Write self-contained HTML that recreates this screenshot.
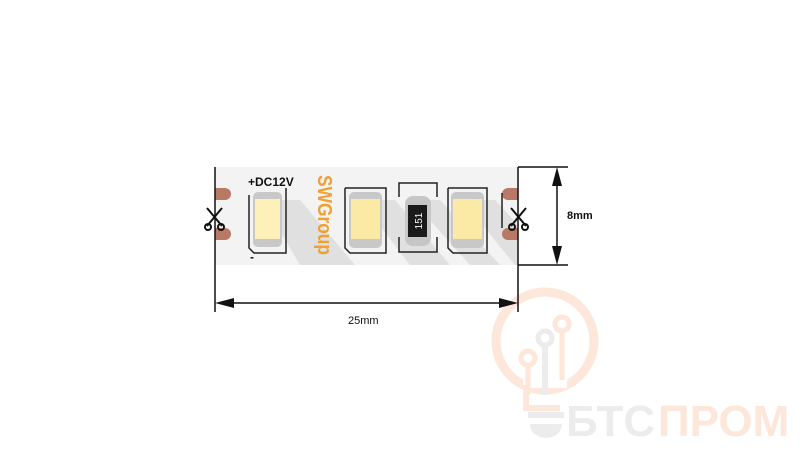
<!DOCTYPE html>
<html><head><meta charset="utf-8"><style>
html,body{margin:0;padding:0;background:#fff;}
svg{display:block;}
</style></head><body>
<svg width="800" height="451" viewBox="0 0 800 451" xmlns="http://www.w3.org/2000/svg" font-family="Liberation Sans, DejaVu Sans, sans-serif">
<!-- watermark -->
<circle cx="545" cy="341" r="49" fill="none" stroke="#fde7da" stroke-width="9"/>
<rect x="523" y="378" width="44" height="10" fill="#fff"/>
<path d="M526 385 L526 408 L560 408" fill="none" stroke="#fde7da" stroke-width="6"/>
<line x1="545" y1="345" x2="545" y2="395" stroke="#ececec" stroke-width="6"/>
<circle cx="545" cy="338" r="7" fill="none" stroke="#ececec" stroke-width="5"/>
<line x1="528" y1="365" x2="528" y2="395" stroke="#fde7da" stroke-width="5"/>
<circle cx="528" cy="358" r="7" fill="none" stroke="#fde7da" stroke-width="5"/>
<line x1="562" y1="332" x2="562" y2="380" stroke="#fde7da" stroke-width="5"/>
<circle cx="562" cy="324" r="7" fill="none" stroke="#fde7da" stroke-width="5"/>
<rect x="528" y="412" width="36" height="6" fill="#ececec"/>
<path d="M530 424 h32 a16 14 0 0 1 -32 0z" fill="#ececec"/>
<text x="566" y="436" font-size="44" font-weight="bold" fill="#ececec">БТС</text>
<text x="658" y="436" font-size="44" font-weight="bold" fill="#fde7da">ПРОМ</text>

<!-- strip -->
<rect x="215" y="167" width="303" height="98" fill="#f3f3f3"/>
<g fill="#e0e0e0">
<polygon points="262,200 300,200 355,265 300,265"/>
<polygon points="360,200 395,200 450,265 410,265"/>
<polygon points="412,200 440,200 500,265 470,265"/>
<polygon points="462,200 495,200 518,225 518,265 515,265"/>
</g>
<!-- pads -->
<g fill="#b87a66">
<path d="M215 188 h10 a6 6 0 0 1 0 12 h-10z"/>
<path d="M215 228 h10 a6 6 0 0 1 0 12 h-10z"/>
<path d="M518 188 h-10 a6 6 0 0 0 0 12 h10z"/>
<path d="M518 228 h-10 a6 6 0 0 0 0 12 h10z"/>
</g>
<!-- scissors -->
<g stroke="#111" stroke-width="2" fill="none">
<line x1="207" y1="208" x2="222" y2="226"/><line x1="222" y1="208" x2="207" y2="226"/>
<circle cx="208" cy="227" r="3"/><circle cx="221" cy="227" r="3"/>
<line x1="511" y1="208" x2="526" y2="226"/><line x1="526" y1="208" x2="511" y2="226"/>
<circle cx="512" cy="227" r="3"/><circle cx="525" cy="227" r="3"/>
</g>
<!-- LED outlines -->
<g stroke="#222" stroke-width="1.5" fill="none">
<path d="M249 195 V248 L254 253 H286 V188"/>
<path d="M345 188 V248 L350 253 H386 V188 H345"/>
<path d="M399 197 V183 H437 V197 M399 237 V252 H437 V237"/>
<path d="M448 188 V248 L453 253 H487 V188 H448"/>
</g>
<line x1="502" y1="193" x2="502" y2="228" stroke="#222" stroke-width="1.5"/>
<!-- LEDs -->
<g>
<rect x="253" y="192" width="29" height="55" rx="5" fill="#c8c8c8"/>
<rect x="255" y="199" width="25" height="40" fill="#fdf0b8"/>
<rect x="349" y="192" width="33" height="56" rx="5" fill="#c8c8c8"/>
<rect x="351" y="199" width="29" height="40" fill="#fbe9a6"/>
<rect x="451" y="192" width="33" height="56" rx="5" fill="#c8c8c8"/>
<rect x="453" y="199" width="29" height="40" fill="#fbe9a6"/>
</g>
<!-- resistor -->
<rect x="405" y="196" width="26" height="50" rx="8" fill="#c6c6c6"/>
<rect x="408" y="205" width="19" height="32" fill="#1a1a1a"/>
<text transform="translate(422,221) rotate(-90)" font-size="10" fill="#fff" text-anchor="middle">151</text>
<!-- text -->
<text x="248" y="186" font-size="12" font-weight="bold" fill="#111">+DC12V</text>
<text x="250" y="261" font-size="12" font-weight="bold" fill="#111">-</text>
<text transform="translate(318,175) rotate(90)" font-size="20" font-weight="bold" fill="#f0a030" textLength="80" lengthAdjust="spacingAndGlyphs">SWGroup</text>
<!-- dimensions -->
<g stroke="#111" stroke-width="1.5">
<line x1="215" y1="167" x2="215" y2="312"/>
<line x1="518" y1="167" x2="518" y2="312"/>
<line x1="222" y1="303" x2="510" y2="303"/>
<line x1="518" y1="167" x2="568" y2="167"/>
<line x1="518" y1="265" x2="568" y2="265"/>
<line x1="557" y1="175" x2="557" y2="257"/>
</g>
<g fill="#111">
<polygon points="215,303 234,298 234,308"/>
<polygon points="518,303 499,298 499,308"/>
<polygon points="557,167 552,186 562,186"/>
<polygon points="557,265 552,246 562,246"/>
</g>
<text x="348" y="324" font-size="11" fill="#111">25mm</text>
<text x="567" y="219" font-size="11" font-weight="bold" fill="#111">8mm</text>
</svg>
</body></html>
